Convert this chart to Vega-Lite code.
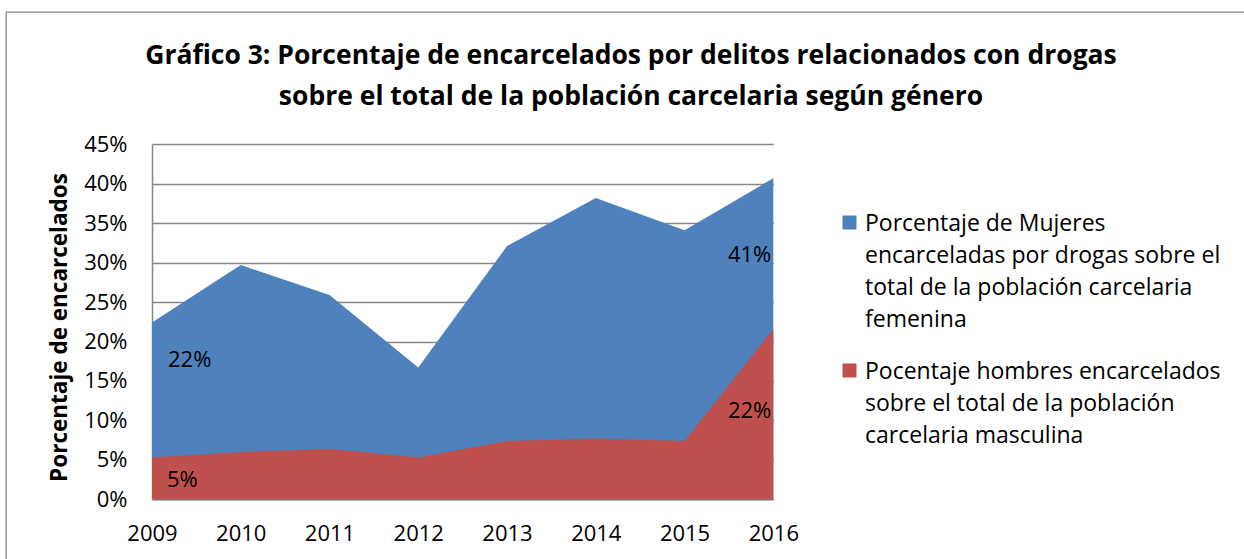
{
  "$schema": "https://vega.github.io/schema/vega-lite/v6.json",
  "autosize": {"type": "none"},
  "padding": {"left": 6, "top": 12, "right": -2, "bottom": -2},
  "width": 1240,
  "height": 549,
  "background": "white",
  "title": {
    "text": ["Gráfico 3: Porcentaje de encarcelados por delitos relacionados con drogas", "sobre el total de la población carcelaria según género"],
    "font": "Open Sans",
    "fontSize": 26.5,
    "fontWeight": "bold",
    "color": "#000000",
    "anchor": "middle",
    "frame": "group",
    "baseline": "alphabetic",
    "lineHeight": 41,
    "offset": 0,
    "dx": 5,
    "dy": 119
  },
  "data": {
    "values": [
      {"year": 2009, "serie": "Mujeres", "value": 0.224},
      {"year": 2010, "serie": "Mujeres", "value": 0.297},
      {"year": 2011, "serie": "Mujeres", "value": 0.259},
      {"year": 2012, "serie": "Mujeres", "value": 0.167},
      {"year": 2013, "serie": "Mujeres", "value": 0.321},
      {"year": 2014, "serie": "Mujeres", "value": 0.382},
      {"year": 2015, "serie": "Mujeres", "value": 0.341},
      {"year": 2016, "serie": "Mujeres", "value": 0.407},
      {"year": 2009, "serie": "Hombres", "value": 0.053},
      {"year": 2010, "serie": "Hombres", "value": 0.060},
      {"year": 2011, "serie": "Hombres", "value": 0.064},
      {"year": 2012, "serie": "Hombres", "value": 0.053},
      {"year": 2013, "serie": "Hombres", "value": 0.074},
      {"year": 2014, "serie": "Hombres", "value": 0.077},
      {"year": 2015, "serie": "Hombres", "value": 0.074},
      {"year": 2016, "serie": "Hombres", "value": 0.216}
    ]
  },
  "encoding": {
    "x": {
      "field": "year",
      "type": "quantitative",
      "scale": {"domain": [2009, 2016], "range": [146, 767.3], "nice": false, "zero": false},
      "axis": {
        "title": null,
        "orient": "bottom",
        "offset": -61.7,
        "values": [2009, 2010, 2011, 2012, 2013, 2014, 2015, 2016],
        "format": "d",
        "grid": false,
        "ticks": false,
        "domain": true,
        "domainColor": "#868686",
        "domainWidth": 1.5,
        "labelFont": "Open Sans",
        "labelFontSize": 22,
        "labelColor": "#000000",
        "labelBaseline": "alphabetic",
        "labelPadding": 41,
        "labelFlush": false,
        "labelOverlap": false
      }
    },
    "y": {
      "field": "value",
      "type": "quantitative",
      "scale": {"domain": [0, 0.45], "range": [487.3, 132.3], "nice": false},
      "axis": {
        "title": "Porcentaje de encarcelados",
        "orient": "left",
        "offset": -146,
        "values": [0, 0.05, 0.1, 0.15, 0.2, 0.25, 0.3, 0.35, 0.4, 0.45],
        "format": ".0%",
        "grid": true,
        "gridColor": "#868686",
        "gridWidth": 1.5,
        "ticks": false,
        "domain": true,
        "domainColor": "#868686",
        "domainWidth": 1.5,
        "labelFont": "Open Sans",
        "labelFontSize": 22,
        "labelColor": "#000000",
        "labelPadding": 25,
        "labelOverlap": false,
        "titleFont": "Open Sans",
        "titleFontSize": 22.5,
        "titleFontWeight": "bold",
        "titleColor": "#000000",
        "titleAngle": -90,
        "titleAlign": "center",
        "titleBaseline": "alphabetic",
        "titleX": -86,
        "titleY": 315
      }
    }
  },
  "layer": [
    {
      "transform": [{"filter": "datum.serie == 'Mujeres'"}],
      "mark": {"type": "area", "opacity": 1},
      "encoding": {
        "y": {"field": "value", "type": "quantitative", "stack": null},
        "color": {
          "field": "serie",
          "type": "nominal",
          "scale": {"domain": ["Mujeres", "Hombres"], "range": ["#4F81BD", "#C0504D"]},
          "legend": {
            "title": null,
            "orient": "none",
            "legendX": 832,
            "legendY": 199,
            "padding": 0,
            "symbolType": "square",
            "symbolSize": 196,
            "symbolStrokeWidth": 0,
            "symbolOpacity": 1,
            "labelFont": "Open Sans",
            "labelFontSize": 23,
            "labelColor": "#000000",
            "labelBaseline": "top",
            "labelOffset": 4,
            "labelLimit": 500,
            "rowPadding": 27,
            "labelExpr": "datum.label == 'Mujeres' ? ['Porcentaje de Mujeres', 'encarceladas por drogas sobre el', 'total de la población carcelaria', 'femenina'] : ['Pocentaje hombres encarcelados', 'sobre el total de la población', 'carcelaria masculina']",
            "encode": {
              "labels": {"update": {"dy": {"value": -10}, "lineHeight": {"value": 32}}}
            }
          }
        }
      }
    },
    {
      "transform": [{"filter": "datum.serie == 'Hombres'"}],
      "mark": {"type": "area", "opacity": 1},
      "encoding": {
        "y": {"field": "value", "type": "quantitative", "stack": null},
        "color": {"field": "serie", "type": "nominal"}
      }
    },
    {
      "transform": [{"filter": "datum.serie == 'Mujeres' && datum.year == 2009"}],
      "mark": {"type": "text", "align": "left", "baseline": "alphabetic", "dx": 16, "dy": 44, "font": "Open Sans", "fontSize": 22, "color": "#000000"},
      "encoding": {"text": {"field": "value", "type": "quantitative", "format": ".0%"}}
    },
    {
      "transform": [{"filter": "datum.serie == 'Hombres' && datum.year == 2009"}],
      "mark": {"type": "text", "align": "left", "baseline": "alphabetic", "dx": 15, "dy": 30, "font": "Open Sans", "fontSize": 22, "color": "#000000"},
      "encoding": {"text": {"field": "value", "type": "quantitative", "format": ".0%"}}
    },
    {
      "transform": [{"filter": "datum.serie == 'Mujeres' && datum.year == 2016"}],
      "mark": {"type": "text", "align": "right", "baseline": "alphabetic", "dx": -2, "dy": 84, "font": "Open Sans", "fontSize": 22, "color": "#000000"},
      "encoding": {"text": {"field": "value", "type": "quantitative", "format": ".0%"}}
    },
    {
      "transform": [{"filter": "datum.serie == 'Hombres' && datum.year == 2016"}],
      "mark": {"type": "text", "align": "right", "baseline": "alphabetic", "dx": -2, "dy": 89, "font": "Open Sans", "fontSize": 22, "color": "#000000"},
      "encoding": {"text": {"field": "value", "type": "quantitative", "format": ".0%"}}
    }
  ],
  "config": {
    "view": {"stroke": "#868686", "strokeWidth": 1.3, "fill": "white"},
    "font": "Open Sans"
  }
}
